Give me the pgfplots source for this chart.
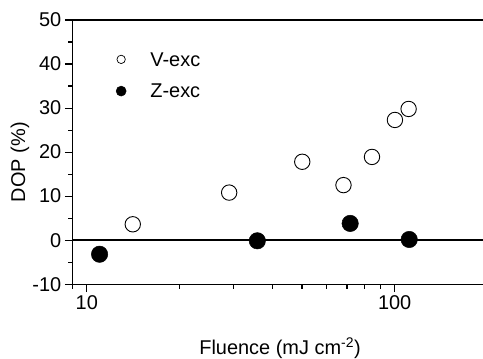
\documentclass[border=0pt]{standalone}
\usepackage{pgfplots}
\pgfplotsset{compat=1.18}
\usepackage{fontspec}
\setmainfont{Liberation Sans}
\newcommand\lf{\fontsize{20}{24}\selectfont}
\begin{document}
\begin{tikzpicture}
\begin{axis}[
  scale only axis, width=414.3bp, height=264bp,
  xmode=log, xmin=9, xmax=200, ymin=-10, ymax=50,
  xtick={10,100}, xticklabels={10,100},
  minor xtick={9,20,30,40,50,60,70,80,90,200},
  ytick={-10,0,10,20,30,40,50}, yticklabels={-10,0,10,20,30,40,50},
  minor ytick={-5,5,15,25,35,45},
  tick align=outside, tick pos=left,
  major tick length=8bp, minor tick length=4.5bp,
  axis line style={line width=1.2bp},
  major tick style={line width=1.1bp, black},
  minor tick style={line width=1.1bp, black},
  every tick label/.append style={font=\lf},
  label style={font=\lf},
  xlabel={Fluence (mJ cm\textsuperscript{-2})},
  ylabel={DOP (\%)},
  xlabel style={at={(axis description cs:0.5,0)}, anchor=base, yshift=-70.5bp},
  ylabel style={at={(axis description cs:-0.1151,0.462)}, anchor=base, rotate=0},
  legend image code/.code={\draw[draw opacity=0, fill opacity=0] (-8bp,-7bp) rectangle (29bp,7bp); \draw[#1] plot coordinates {(0bp,0bp)};},
  legend style={draw=none, fill=none, inner sep=0pt, font=\lf,
    nodes={inner sep=0pt, text depth=0pt, font=\lf}, row sep=17.3bp,
    at={(axis description cs:0.0965,0.879)}, anchor=north west},
  legend cell align=left,
]
\addlegendimage{black, mark=*, mark size=4.2bp, mark options={fill=white, line width=0.7bp}}
\addlegendentry{\lf V-exc}
\addlegendimage{black, mark=*, mark size=5bp, mark options={fill=black, line width=0.5bp}}
\addlegendentry{\lf Z-exc}
\addplot[black, line width=1.8bp, forget plot] coordinates {(9,0) (200,0)};
\addplot[only marks, black, mark=*, mark size=7.7bp, mark options={fill=white, line width=0.9bp}, forget plot] coordinates {
(14.1,3.6) (29.0,10.8) (50.1,17.8) (68.2,12.5) (84.4,18.9) (100.2,27.3) (111,29.8)};
\addplot[only marks, black, mark=*, mark size=8.2bp, mark options={fill=black, line width=0.5bp}, forget plot] coordinates {
(11.0,-3.2) (35.8,-0.15) (71.7,3.8) (111.5,0.15)};
\coordinate (bl) at (rel axis cs:0,0);
\coordinate (tr) at (rel axis cs:1,1);
\end{axis}
\pgfresetboundingbox
\path ([shift={(-72.7bp,-74bp)}]bl) rectangle ([shift={(-4.3bp,20bp)}]tr);
\end{tikzpicture}
\end{document}
